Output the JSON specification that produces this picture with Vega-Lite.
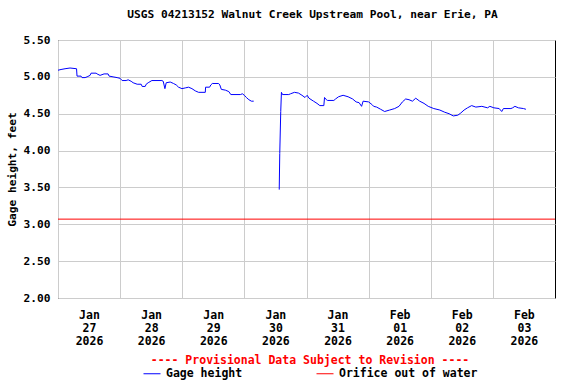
{
  "$schema": "https://vega.github.io/schema/vega-lite/v6.json",
  "width": 497,
  "height": 258,
  "autosize": {"type": "none"},
  "padding": {"left": 58, "top": 40, "right": 21, "bottom": 86},
  "background": "white",
  "title": {"text": "USGS 04213152 Walnut Creek Upstream Pool, near Erie, PA", "font": "DejaVu Sans Mono", "fontSize": 11.2, "fontWeight": "bold", "color": "black", "offset": 14, "anchor": "middle", "limit": 0, "dx": 6},
  "config": {"view": {"stroke": "black", "strokeWidth": 1}},
  "datasets": {
    "gage": [
      {"t": "2026-01-27T00:00", "v": 5.09, "g": 1},
      {"t": "2026-01-27T01:10", "v": 5.10, "g": 1},
      {"t": "2026-01-27T02:43", "v": 5.11, "g": 1},
      {"t": "2026-01-27T04:39", "v": 5.12, "g": 1},
      {"t": "2026-01-27T07:10", "v": 5.11, "g": 1},
      {"t": "2026-01-27T07:21", "v": 5.01, "g": 1},
      {"t": "2026-01-27T08:54", "v": 5.01, "g": 1},
      {"t": "2026-01-27T09:17", "v": 4.99, "g": 1},
      {"t": "2026-01-27T10:27", "v": 4.99, "g": 1},
      {"t": "2026-01-27T11:14", "v": 5.00, "g": 1},
      {"t": "2026-01-27T12:23", "v": 5.02, "g": 1},
      {"t": "2026-01-27T12:46", "v": 5.05, "g": 1},
      {"t": "2026-01-27T14:43", "v": 5.05, "g": 1},
      {"t": "2026-01-27T15:06", "v": 5.04, "g": 1},
      {"t": "2026-01-27T16:15", "v": 5.02, "g": 1},
      {"t": "2026-01-27T17:48", "v": 5.04, "g": 1},
      {"t": "2026-01-27T19:21", "v": 5.04, "g": 1},
      {"t": "2026-01-27T19:44", "v": 5.01, "g": 1},
      {"t": "2026-01-27T21:17", "v": 5.00, "g": 1},
      {"t": "2026-01-27T22:50", "v": 4.99, "g": 1},
      {"t": "2026-01-28T00:00", "v": 4.98, "g": 1},
      {"t": "2026-01-28T00:46", "v": 4.95, "g": 1},
      {"t": "2026-01-28T02:19", "v": 4.95, "g": 1},
      {"t": "2026-01-28T03:06", "v": 4.96, "g": 1},
      {"t": "2026-01-28T04:15", "v": 4.94, "g": 1},
      {"t": "2026-01-28T05:02", "v": 4.92, "g": 1},
      {"t": "2026-01-28T06:35", "v": 4.90, "g": 1},
      {"t": "2026-01-28T08:08", "v": 4.90, "g": 1},
      {"t": "2026-01-28T08:31", "v": 4.87, "g": 1},
      {"t": "2026-01-28T09:41", "v": 4.87, "g": 1},
      {"t": "2026-01-28T10:04", "v": 4.90, "g": 1},
      {"t": "2026-01-28T10:50", "v": 4.92, "g": 1},
      {"t": "2026-01-28T12:16", "v": 4.95, "g": 1},
      {"t": "2026-01-28T16:08", "v": 4.95, "g": 1},
      {"t": "2026-01-28T16:39", "v": 4.94, "g": 1},
      {"t": "2026-01-28T17:18", "v": 4.84, "g": 1},
      {"t": "2026-01-28T17:48", "v": 4.92, "g": 1},
      {"t": "2026-01-28T19:21", "v": 4.93, "g": 1},
      {"t": "2026-01-28T20:38", "v": 4.91, "g": 1},
      {"t": "2026-01-28T21:41", "v": 4.89, "g": 1},
      {"t": "2026-01-28T22:34", "v": 4.86, "g": 1},
      {"t": "2026-01-28T23:53", "v": 4.84, "g": 1},
      {"t": "2026-01-29T01:10", "v": 4.85, "g": 1},
      {"t": "2026-01-29T02:26", "v": 4.86, "g": 1},
      {"t": "2026-01-29T03:45", "v": 4.84, "g": 1},
      {"t": "2026-01-29T05:02", "v": 4.81, "g": 1},
      {"t": "2026-01-29T06:19", "v": 4.79, "g": 1},
      {"t": "2026-01-29T08:54", "v": 4.79, "g": 1},
      {"t": "2026-01-29T09:01", "v": 4.86, "g": 1},
      {"t": "2026-01-29T10:34", "v": 4.86, "g": 1},
      {"t": "2026-01-29T11:02", "v": 4.89, "g": 1},
      {"t": "2026-01-29T11:37", "v": 4.91, "g": 1},
      {"t": "2026-01-29T14:03", "v": 4.91, "g": 1},
      {"t": "2026-01-29T14:31", "v": 4.89, "g": 1},
      {"t": "2026-01-29T15:06", "v": 4.83, "g": 1},
      {"t": "2026-01-29T16:39", "v": 4.82, "g": 1},
      {"t": "2026-01-29T18:00", "v": 4.80, "g": 1},
      {"t": "2026-01-29T18:46", "v": 4.76, "g": 1},
      {"t": "2026-01-29T22:27", "v": 4.76, "g": 1},
      {"t": "2026-01-29T23:14", "v": 4.77, "g": 1},
      {"t": "2026-01-30T00:00", "v": 4.75, "g": 1},
      {"t": "2026-01-30T00:46", "v": 4.72, "g": 1},
      {"t": "2026-01-30T01:44", "v": 4.69, "g": 1},
      {"t": "2026-01-30T02:43", "v": 4.67, "g": 1},
      {"t": "2026-01-30T03:36", "v": 4.67, "g": 1},
      {"t": "2026-01-30T13:28", "v": 3.47, "g": 2},
      {"t": "2026-01-30T13:40", "v": 3.96, "g": 2},
      {"t": "2026-01-30T14:03", "v": 4.53, "g": 2},
      {"t": "2026-01-30T14:19", "v": 4.79, "g": 2},
      {"t": "2026-01-30T14:43", "v": 4.76, "g": 2},
      {"t": "2026-01-30T17:09", "v": 4.76, "g": 2},
      {"t": "2026-01-30T17:49", "v": 4.77, "g": 2},
      {"t": "2026-01-30T19:21", "v": 4.79, "g": 2},
      {"t": "2026-01-30T20:54", "v": 4.78, "g": 2},
      {"t": "2026-01-30T22:15", "v": 4.75, "g": 2},
      {"t": "2026-01-30T23:25", "v": 4.72, "g": 2},
      {"t": "2026-01-31T00:16", "v": 4.75, "g": 2},
      {"t": "2026-01-31T00:58", "v": 4.71, "g": 2},
      {"t": "2026-01-31T02:43", "v": 4.67, "g": 2},
      {"t": "2026-01-31T04:04", "v": 4.64, "g": 2},
      {"t": "2026-01-31T05:09", "v": 4.61, "g": 2},
      {"t": "2026-01-31T06:42", "v": 4.61, "g": 2},
      {"t": "2026-01-31T06:58", "v": 4.72, "g": 2},
      {"t": "2026-01-31T07:40", "v": 4.69, "g": 2},
      {"t": "2026-01-31T08:08", "v": 4.68, "g": 2},
      {"t": "2026-01-31T10:34", "v": 4.68, "g": 2},
      {"t": "2026-01-31T11:14", "v": 4.70, "g": 2},
      {"t": "2026-01-31T12:23", "v": 4.73, "g": 2},
      {"t": "2026-01-31T14:08", "v": 4.75, "g": 2},
      {"t": "2026-01-31T16:04", "v": 4.73, "g": 2},
      {"t": "2026-01-31T17:49", "v": 4.70, "g": 2},
      {"t": "2026-01-31T19:10", "v": 4.66, "g": 2},
      {"t": "2026-01-31T20:19", "v": 4.65, "g": 2},
      {"t": "2026-01-31T21:17", "v": 4.60, "g": 2},
      {"t": "2026-01-31T21:52", "v": 4.67, "g": 2},
      {"t": "2026-02-01T00:00", "v": 4.66, "g": 2},
      {"t": "2026-02-01T01:26", "v": 4.62, "g": 2},
      {"t": "2026-02-01T01:56", "v": 4.60, "g": 2},
      {"t": "2026-02-01T03:06", "v": 4.59, "g": 2},
      {"t": "2026-02-01T04:39", "v": 4.56, "g": 2},
      {"t": "2026-02-01T06:11", "v": 4.53, "g": 2},
      {"t": "2026-02-01T08:08", "v": 4.55, "g": 2},
      {"t": "2026-02-01T10:04", "v": 4.57, "g": 2},
      {"t": "2026-02-01T11:44", "v": 4.60, "g": 2},
      {"t": "2026-02-01T13:03", "v": 4.66, "g": 2},
      {"t": "2026-02-01T14:19", "v": 4.70, "g": 2},
      {"t": "2026-02-01T15:36", "v": 4.69, "g": 2},
      {"t": "2026-02-01T16:55", "v": 4.67, "g": 2},
      {"t": "2026-02-01T18:12", "v": 4.71, "g": 2},
      {"t": "2026-02-01T19:44", "v": 4.67, "g": 2},
      {"t": "2026-02-01T21:24", "v": 4.64, "g": 2},
      {"t": "2026-02-01T23:02", "v": 4.60, "g": 2},
      {"t": "2026-02-02T01:10", "v": 4.57, "g": 2},
      {"t": "2026-02-02T03:29", "v": 4.55, "g": 2},
      {"t": "2026-02-02T05:25", "v": 4.52, "g": 2},
      {"t": "2026-02-02T07:05", "v": 4.50, "g": 2},
      {"t": "2026-02-02T08:42", "v": 4.47, "g": 2},
      {"t": "2026-02-02T10:27", "v": 4.48, "g": 2},
      {"t": "2026-02-02T11:37", "v": 4.51, "g": 2},
      {"t": "2026-02-02T12:53", "v": 4.55, "g": 2},
      {"t": "2026-02-02T14:12", "v": 4.58, "g": 2},
      {"t": "2026-02-02T15:48", "v": 4.61, "g": 2},
      {"t": "2026-02-02T17:25", "v": 4.59, "g": 2},
      {"t": "2026-02-02T19:44", "v": 4.60, "g": 2},
      {"t": "2026-02-02T21:57", "v": 4.58, "g": 2},
      {"t": "2026-02-02T22:50", "v": 4.60, "g": 2},
      {"t": "2026-02-03T00:23", "v": 4.58, "g": 2},
      {"t": "2026-02-03T02:26", "v": 4.57, "g": 2},
      {"t": "2026-02-03T03:25", "v": 4.53, "g": 2},
      {"t": "2026-02-03T04:04", "v": 4.57, "g": 2},
      {"t": "2026-02-03T06:58", "v": 4.57, "g": 2},
      {"t": "2026-02-03T07:38", "v": 4.58, "g": 2},
      {"t": "2026-02-03T08:31", "v": 4.60, "g": 2},
      {"t": "2026-02-03T09:52", "v": 4.58, "g": 2},
      {"t": "2026-02-03T11:49", "v": 4.57, "g": 2},
      {"t": "2026-02-03T12:46", "v": 4.56, "g": 2}
    ],
    "orifice": [{"v": 3.07}]
  },
  "encoding": {
    "y": {
      "field": "v", "type": "quantitative",
      "scale": {"domain": [2, 5.5], "nice": false, "zero": false},
      "axis": {
        "values": [2, 2.5, 3, 3.5, 4, 4.5, 5, 5.5],
        "format": ".2f",
        "grid": true, "gridColor": "#cccccc", "gridWidth": 1,
        "ticks": false, "domain": false,
        "labelOverlap": false, "labelFlush": false,
        "labelFont": "DejaVu Sans Mono", "labelFontSize": 11.2, "labelFontWeight": "bold", "labelColor": "black",
        "labelPadding": 8,
        "title": "Gage height, feet",
        "titleFont": "DejaVu Sans Mono", "titleFontSize": 11.2, "titleFontWeight": "bold", "titleColor": "black",
        "titlePadding": 6
      }
    }
  },
  "layer": [
    {
      "data": {"name": "gage"},
      "mark": {"type": "line", "strokeWidth": 1, "clip": true},
      "encoding": {
        "x": {
          "field": "t", "type": "temporal",
          "scale": {"domain": [{"year": 2026, "month": 1, "date": 27}, {"year": 2026, "month": 2, "date": 4}]},
          "axis": {
            "title": null,
            "values": [
              {"year": 2026, "month": 1, "date": 27}, {"year": 2026, "month": 1, "date": 28},
              {"year": 2026, "month": 1, "date": 29}, {"year": 2026, "month": 1, "date": 30},
              {"year": 2026, "month": 1, "date": 31}, {"year": 2026, "month": 2, "date": 1},
              {"year": 2026, "month": 2, "date": 2}, {"year": 2026, "month": 2, "date": 3}
            ],
            "grid": true, "gridColor": "#cccccc", "gridWidth": 1,
            "ticks": false, "domain": false,
            "labelOffset": 31,
            "labelExpr": "[timeFormat(datum.value, '%b'), timeFormat(datum.value, '%d'), timeFormat(datum.value, '%Y')]",
            "labelFont": "DejaVu Sans Mono", "labelFontSize": 11.5, "labelFontWeight": "bold", "labelColor": "black",
            "labelLineHeight": 13, "labelPadding": 11, "labelOverlap": false, "labelFlush": false, "labelBound": false,
            "labelBaseline": "top"
          }
        },
        "detail": {"field": "g"},
        "color": {
          "datum": "Gage height",
          "scale": {"domain": ["Gage height", "Orifice out of water"], "range": ["#0000ff", "#ff0000"]},
          "legend": {
            "orient": "none", "legendX": 85, "legendY": 315,
            "direction": "horizontal", "columns": 2,
            "title": "---- Provisional Data Subject to Revision ----",
            "titleColor": "#ff0000", "titleFont": "DejaVu Sans Mono", "titleFontSize": 11.5, "titleFontWeight": "bold",
            "titleAnchor": "middle", "titlePadding": -2, "titleLimit": 0,
            "symbolType": "stroke", "symbolSize": 289, "symbolStrokeWidth": 1,
            "labelFont": "DejaVu Sans Mono", "labelFontSize": 11.5, "labelFontWeight": "bold", "labelColor": "black",
            "labelLimit": 0,
            "labelOffset": 5, "columnPadding": 71, "padding": 0
          }
        }
      }
    },
    {
      "data": {"name": "orifice"},
      "mark": {"type": "rule", "strokeWidth": 1},
      "encoding": {
        "color": {"datum": "Orifice out of water"}
      }
    }
  ]
}
